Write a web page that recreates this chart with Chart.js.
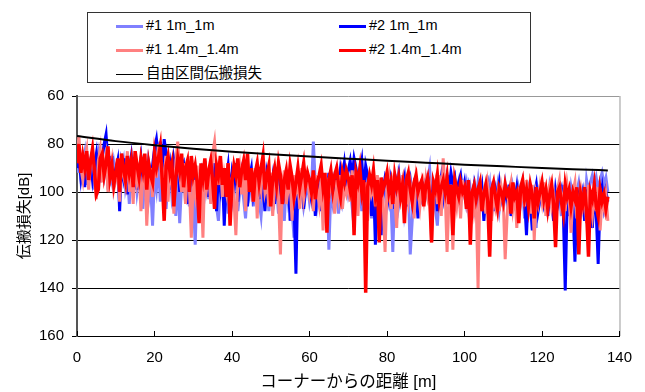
<!DOCTYPE html>
<html lang="ja">
<head>
<meta charset="UTF-8">
<title>伝搬損失</title>
<script src="https://cdn.jsdelivr.net/npm/chart.js"></script>
<style>
    body { margin: 0; background: #fff; }
    .wrap { position: relative; width: 645px; height: 392px; }
    .legend {
        position: absolute; left: 87px; top: 12px; width: 442px; height: 69px;
        border: 1px solid #333; background: #fff;
        font-family: "Liberation Sans", Arial, "Noto Sans CJK JP", sans-serif; font-size: 14.5px; color: #000;
    }
    .item { position: absolute; height: 16px; line-height: 16px; white-space: nowrap; }
    .item i { display: inline-block; width: 27px; vertical-align: middle; margin-right: 3px; }
</style>
</head>
<body>
<div class="wrap">
    <canvas id="c" width="645" height="392"></canvas>
    <div class="legend">
        <div class="item" style="left:28px;top:4px"><i style="border-top:3px solid #8080FF"></i>#1 1m_1m</div>
        <div class="item" style="left:251px;top:4px"><i style="border-top:3px solid #0000FF"></i>#2 1m_1m</div>
        <div class="item" style="left:28px;top:28px"><i style="border-top:3px solid #FF8080"></i>#1 1.4m_1.4m</div>
        <div class="item" style="left:251px;top:28px"><i style="border-top:3px solid #FF0000"></i>#2 1.4m_1.4m</div>
        <div class="item" style="left:28px;top:52px"><i style="border-top:1px solid #000"></i>自由区間伝搬損失</div>
    </div>
</div>
<script>
// sampled every 0.5 m from the corner (0 .. 137 m)
const STEP = 0.5;

// #1 1m_1m
const lb1m = [
    92, 86, 95, 89, 84, 97, 90, 93, 87, 99, 91, 85, 96, 88, 93, 86, 99, 90, 95, 88,
    94, 89, 102, 91, 87, 98, 93, 105, 90, 96, 88, 100, 94, 90, 107, 95, 91, 103, 97, 114,
    93, 99, 88, 104, 96, 92, 107, 94, 90, 102, 97, 110, 93, 113, 96, 91, 104, 98, 106, 95,
    101, 122, 97, 104, 93, 108, 99, 95, 103, 91, 100, 96, 106, 112, 98, 94, 102, 97, 109, 95,
    104, 98, 93, 108, 100, 96, 103, 111, 97, 101, 94, 106, 99, 95, 104, 110, 98, 102, 96, 108,
    100, 95, 103, 98, 109, 97, 101, 112, 96, 104, 99, 107, 119, 100, 95, 103, 98, 106, 101, 97,
    104, 99, 79, 97, 106, 101, 98, 110, 103, 96, 124, 100, 105, 98, 102, 109, 97, 104, 99, 95,
    101, 97, 106, 99, 94, 103, 98, 108, 100, 96, 104, 99, 111, 97, 102, 107, 98, 116, 101, 97,
    105, 99, 103, 125, 100, 96, 106, 101, 98, 109, 103, 97, 126, 112, 96, 104, 99, 100, 102, 98,
    101, 95, 90, 104, 99, 107, 114, 100, 96, 103, 98, 105, 93, 101, 97, 108, 100, 96, 104, 99,
    102, 97, 106, 100, 111, 98, 103, 96, 105, 100, 108, 99, 102, 97, 110, 101, 104, 98, 107, 100,
    103, 97, 105, 100, 109, 98, 102, 106, 99, 104, 97, 111, 101, 98, 106, 100, 103, 115, 99, 102,
    97, 104, 100, 108, 98, 103, 107, 99, 105, 101, 110, 97, 104, 100, 106, 98, 103, 112, 100, 96,
    102, 99, 107, 95, 100, 96, 93, 98, 94, 99, 95, 92, 97, 94, 100
];

// #2 1m_1m
const b1m = [
    90, 85, 94, 88, 98, 84, 91, 87, 95, 89, 84, 96, 90, 86, 80, 76, 88, 93, 85, 97,
    91, 87, 108, 89, 94, 86, 101, 90, 85, 95, 88, 99, 92, 86, 97, 90, 104, 88, 93, 89,
    82, 78, 86, 79, 91, 78, 84, 95, 89, 99, 87, 93, 85, 100, 90, 88, 96, 105, 91, 94,
    98, 89, 103, 94, 91, 99, 87, 95, 102, 90, 96, 88, 108, 93, 99, 91, 114, 95, 89, 101,
    92, 97, 88, 104, 95, 91, 99, 87, 106, 94, 90, 101, 96, 89, 103, 93, 98, 108, 92, 96,
    100, 94, 105, 91, 97, 110, 95, 102, 99, 93, 112, 98, 104, 134, 96, 101, 93, 107, 97, 94,
    99, 103, 95, 110, 97, 94, 108, 100, 96, 104, 92, 99, 95, 101, 93, 97, 90, 94, 88, 96,
    91, 87, 94, 86, 90, 96, 92, 87, 100, 89, 93, 98, 110, 95, 122, 97, 102, 118, 99, 94,
    97, 103, 95, 100, 107, 96, 92, 101, 98, 94, 106, 99, 95, 103, 97, 100, 111, 96, 102, 98,
    95, 101, 97, 104, 99, 96, 108, 100, 94, 103, 98, 93, 99, 92, 97, 94, 102, 96, 93, 100,
    96, 104, 99, 110, 101, 97, 106, 100, 103, 98, 112, 101, 97, 105, 100, 108, 99, 103, 96, 102,
    106, 99, 103, 97, 110, 101, 104, 98, 107, 100, 96, 103, 118, 99, 105, 116, 101, 97, 108, 103,
    99, 105, 101, 110, 97, 104, 112, 100, 106, 102, 99, 108, 141, 103, 110, 100, 107, 129, 104, 101,
    108, 102, 112, 99, 106, 104, 115, 101, 109, 130, 103, 98, 106, 100, 104
];

// #1 1.4m_1.4m
const p14 = [
    84, 77, 90, 95, 86, 82, 99, 88, 84, 93, 103, 87, 82, 96, 90, 85, 100, 92, 87, 99,
    95, 88, 104, 86, 93, 97, 83, 100, 90, 105, 87, 96, 91, 108, 94, 88, 114, 97, 90, 102,
    86, 94, 80, 88, 99, 92, 85, 104, 90, 96, 109, 87, 79, 93, 100, 88, 105, 91, 98, 119,
    95, 101, 89, 108, 96, 119, 88, 98, 92, 105, 84, 79, 90, 97, 86, 102, 93, 99, 88, 110,
    94, 103, 118, 96, 90, 101, 92, 108, 88, 97, 95, 104, 90, 111, 93, 99, 87, 100, 96, 106,
    92, 110, 98, 94, 102, 126, 97, 91, 105, 99, 95, 112, 93, 100, 96, 107, 90, 103, 98, 94,
    101, 96, 108, 93, 99, 105, 94, 116, 100, 97, 104, 92, 99, 109, 95, 102, 93, 107, 98, 101,
    96, 104, 91, 100, 97, 110, 94, 99, 103, 96, 112, 95, 101, 98, 106, 93, 100, 97, 104, 125,
    99, 94, 107, 97, 102, 115, 95, 100, 93, 108, 98, 104, 96, 101, 111, 94, 99, 106, 97, 103,
    95, 102, 98, 121, 100, 96, 105, 93, 110, 86, 99, 125, 103, 97, 124, 100, 106, 98, 111, 95,
    101, 105, 97, 114, 99, 108, 102, 140, 96, 104, 100, 109, 97, 103, 112, 99, 106, 101, 108, 98,
    103, 128, 110, 100, 96, 107, 101, 115, 98, 104, 99, 106, 95, 102, 109, 97, 120, 101, 105, 98,
    104, 96, 110, 100, 97, 106, 102, 114, 99, 95, 105, 101, 108, 97, 103, 117, 100, 96, 111, 104,
    99, 106, 101, 113, 97, 104, 110, 100, 108, 98, 116, 103, 107, 101, 112
];

// #2 1.4m_1.4m
const r14 = [
    88, 80, 92, 85, 90, 83, 95, 87, 82, 91, 101, 99, 86, 84, 93, 88, 81, 94, 89, 97,
    92, 86, 100, 84, 90, 95, 85, 92, 87, 98, 83, 89, 94, 86, 91, 84, 99, 88, 93, 96,
    84, 90, 86, 81, 95, 112, 89, 85, 92, 88, 106, 94, 86, 91, 84, 98, 90, 87, 100, 85,
    93, 89, 96, 113, 88, 94, 86, 99, 91, 87, 95, 107, 89, 93, 85, 97, 90, 102, 88, 114,
    96, 89, 93, 86, 98, 91, 87, 95, 84, 100, 90, 104, 92, 88, 96, 90, 85, 99, 93, 89,
    106, 94, 90, 97, 88, 93, 105, 95, 91, 99, 89, 94, 102, 96, 90, 98, 93, 88, 97, 92,
    95, 100, 91, 103, 96, 93, 89, 98, 92, 117, 95, 91, 99, 93, 90, 97, 102, 92, 96, 91,
    94, 99, 93, 118, 92, 96, 90, 100, 95, 142, 98, 93, 97, 91, 101, 95, 121, 94, 99, 96,
    92, 100, 96, 105, 93, 98, 94, 102, 97, 113, 95, 92, 99, 104, 96, 93, 100, 97, 95, 106,
    97, 94, 101, 121, 96, 99, 93, 103, 98, 95, 100, 94, 105, 97, 118, 95, 99, 102, 96, 100,
    98, 107, 95, 122, 100, 97, 103, 99, 96, 108, 101, 97, 104, 127, 99, 96, 102, 107, 98, 100,
    104, 97, 101, 99, 109, 96, 102, 100, 113, 98, 95, 103, 99, 106, 97, 101, 111, 98, 104, 100,
    96, 103, 99, 107, 101, 97, 105, 123, 100, 98, 104, 109, 97, 102, 99, 106, 100, 103, 98, 126,
    101, 105, 98, 108, 127, 100, 103, 97, 106, 110, 99, 104, 101, 107, 102
];

// free space loss curve
const fsDist = [0, 10, 20, 30, 40, 50, 60, 70, 80, 90, 100, 110, 120, 130, 137];
const fsLoss = [76.7, 78.8, 80.5, 82.0, 83.2, 84.3, 85.2, 86.1, 87.0, 87.8, 88.6, 89.3, 90.0, 90.6, 91.0];

const FONT = '"Liberation Sans", Arial, "Noto Sans CJK JP", sans-serif';

function pts(arr) {
    return arr.map((v, i) => ({ x: i * STEP, y: v }));
}

function line(label, arr, color, width, order) {
    return {
        label: label, data: pts(arr), borderColor: color, backgroundColor: color,
        borderWidth: width, pointRadius: 0, tension: 0, order: order
    };
}

// inner tick marks on the x axis + grey right frame
const frame = {
    id: 'frame',
    afterDraw(chart) {
        const ctx = chart.ctx, a = chart.chartArea, xs = chart.scales.x;
        ctx.save();
        ctx.strokeStyle = '#999';
        ctx.lineWidth = 1;
        ctx.beginPath();
        ctx.moveTo(a.right + 0.5, a.top);
        ctx.lineTo(a.right + 0.5, a.bottom);
        ctx.stroke();
        ctx.strokeStyle = '#000';
        ctx.beginPath();
        xs.ticks.forEach((t, i) => {
            const px = Math.round(xs.getPixelForTick(i)) + 0.5;
            ctx.moveTo(px, a.bottom);
            ctx.lineTo(px, a.bottom - 5);
        });
        ctx.stroke();
        ctx.restore();
    }
};

new Chart(document.getElementById('c'), {
    type: 'line',
    data: {
        datasets: [
            line('#1 1m_1m', lb1m, '#8080FF', 3, 4),
            line('#2 1m_1m', b1m, '#0000FF', 3, 3),
            line('#1 1.4m_1.4m', p14, '#FF8080', 3, 2),
            line('#2 1.4m_1.4m', r14, '#FF0000', 3.5, 1),
            {
                label: '自由区間伝搬損失',
                data: fsDist.map((d, i) => ({ x: d, y: fsLoss[i] })),
                borderColor: '#000', borderWidth: 2, pointRadius: 0,
                cubicInterpolationMode: 'monotone', order: 0
            }
        ]
    },
    options: {
        responsive: false,
        animation: false,
        devicePixelRatio: 1,
        layout: { padding: { top: 96, right: 15, left: 0, bottom: 0 } },
        plugins: { legend: { display: false }, tooltip: { enabled: false } },
        scales: {
            x: {
                type: 'linear', min: 0, max: 140,
                ticks: { stepSize: 20, color: '#000', padding: 13, font: { family: FONT, size: 15 } },
                grid: { drawOnChartArea: false, drawTicks: false },
                border: { color: '#000', width: 1 },
                title: { display: true, text: 'コーナーからの距離 [m]', color: '#000',
                         font: { family: FONT, size: 16.5 }, padding: { top: 0, bottom: 0 } },
                afterFit(s) { s.height = 56; }
            },
            y: {
                reverse: true, min: 60, max: 160,
                ticks: { stepSize: 20, color: '#000', padding: 8, font: { family: FONT, size: 15 } },
                grid: {
                    color: c => c.tick && c.tick.value === 60 ? '#999' : '#000',
                    tickColor: '#000', tickLength: 5, lineWidth: 1
                },
                border: { color: '#555', width: 2 },
                title: { display: true, text: '伝搬損失[dB]', color: '#000',
                         font: { family: FONT, size: 15 }, padding: { top: 16, bottom: 0 } },
                afterFit(s) { s.width = 77; }
            }
        }
    },
    plugins: [frame]
});
</script>
</body>
</html>
